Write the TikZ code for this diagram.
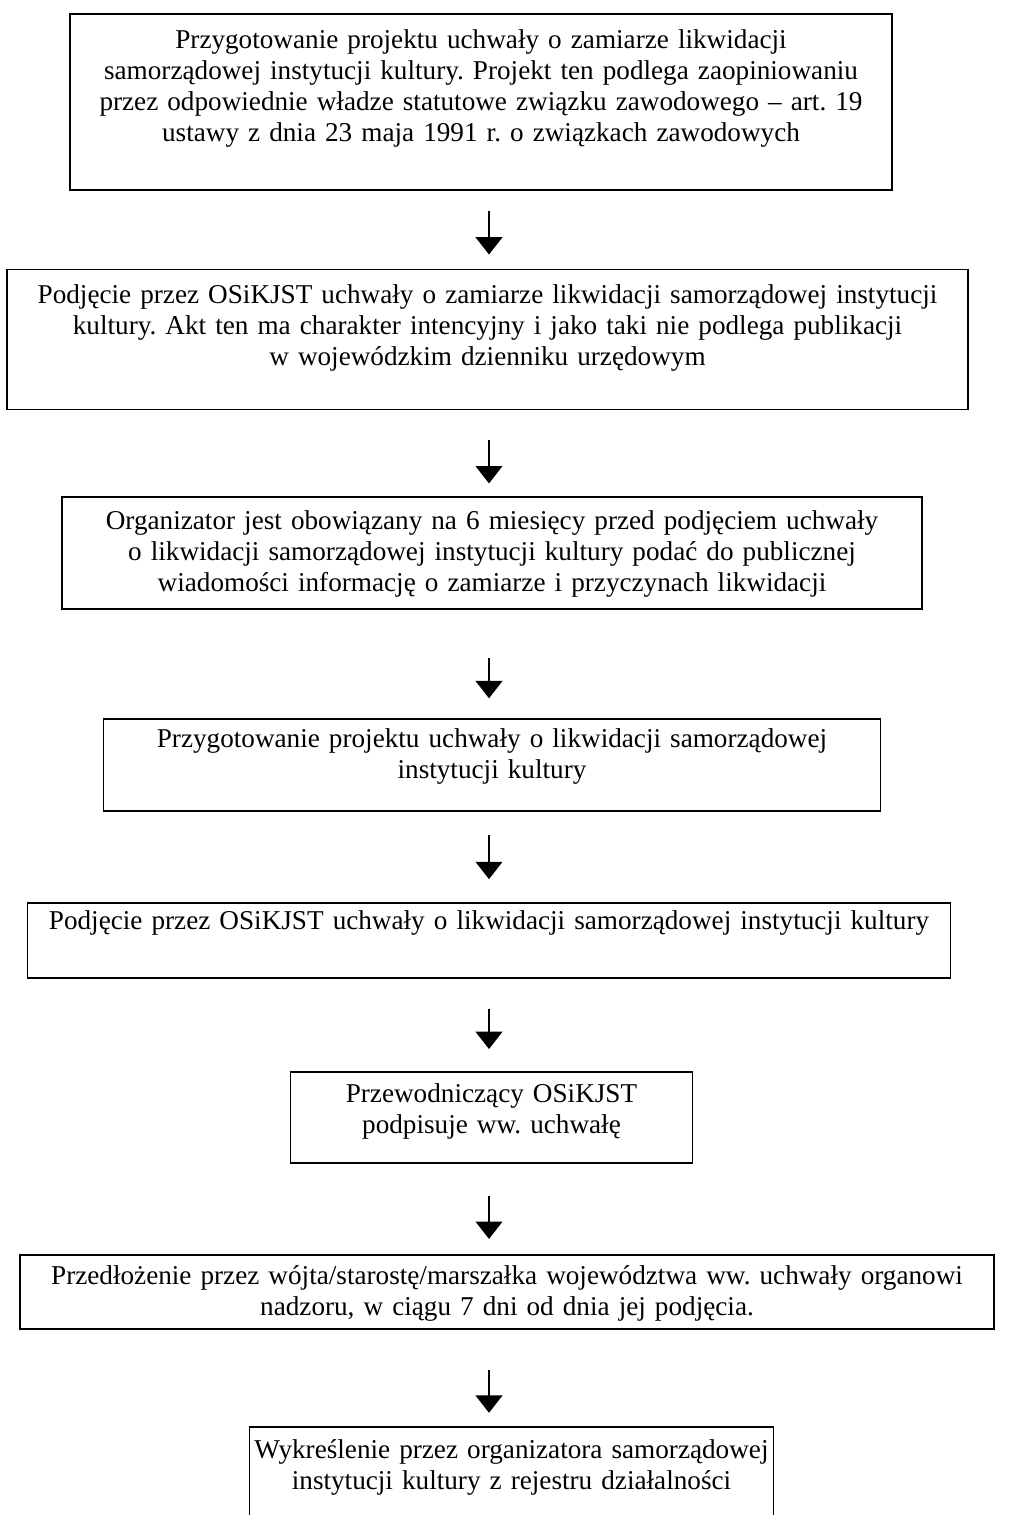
\documentclass[tikz,border=0pt]{standalone}
\usepackage{fontspec}
\setmainfont{Liberation Serif}
\usepackage{tikz}
\usetikzlibrary{arrows.meta, positioning}
\frenchspacing

\begin{document}
\begin{tikzpicture}[
    node distance=1.2cm,
    stage/.style={rectangle, draw=black, line width=0.8pt, inner sep=0pt, align=center, text height=0.47cm, font=\fontsize{11.6pt}{13.2pt}\selectfont},
    arrow/.style={-{Triangle[length=2.6mm, width=4mm]}, line width=0.8pt}
]
\useasboundingbox (0,0) rectangle (15.165,-22.725);
\coordinate (spine) at (7.335,0);

\node[stage, text width=12.33cm, text height=0.525cm, text depth=2.115cm, anchor=north] (draft) at (7.215,-0.19) {Przygotowanie projektu uchwały o zamiarze likwidacji\\ samorządowej instytucji kultury. Projekt ten podlega zaopiniowaniu\\ przez odpowiednie władze statutowe związku zawodowego – art. 19\\ ustawy z dnia 23 maja 1991 r. o związkach zawodowych};
\node[stage, text width=14.415cm, text height=0.51cm, text depth=1.59cm, below=1.17cm of draft, xshift=0.0975cm] (intent) {Podjęcie przez OSiKJST uchwały o zamiarze likwidacji samorządowej instytucji\\ kultury. Akt ten ma charakter intencyjny i jako taki nie podlega publikacji\\ w wojewódzkim dzienniku urzędowym};
\node[stage, text width=12.9cm, text height=0.48cm, text depth=1.2cm, below=1.29cm of intent, xshift=0.0675cm] (notice) {Organizator jest obowiązany na 6 miesięcy przed podjęciem uchwały\\ o likwidacji samorządowej instytucji kultury podać do publicznej\\ wiadomości informację o zamiarze i przyczynach likwidacji};
\node[stage, text width=11.655cm, text height=0.42cm, text depth=0.96cm, below=1.62cm of notice] (project) {Przygotowanie projektu uchwały o likwidacji samorządowej\\ instytucji kultury};
\node[stage, text width=13.845cm, text height=0.39cm, text depth=0.735cm, below=1.35cm of project, xshift=-0.045cm] (resolve) {Podjęcie przez OSiKJST uchwały o likwidacji samorządowej instytucji kultury};
\node[stage, text width=6.03cm, text height=0.465cm, text depth=0.9cm, below=1.38cm of resolve, xshift=0.0375cm] (sign) {Przewodniczący OSiKJST\\ podpisuje ww. uchwałę};
\node[stage, text width=14.6cm, text height=0.45cm, text depth=0.66cm, below=1.35cm of sign, xshift=0.2325cm] (submit) {Przedłożenie przez wójta/starostę/marszałka województwa ww. uchwały organowi\\ nadzoru, w ciągu 7 dni od dnia jej podjęcia.};
\node[stage, text width=7.86cm, text height=0.48cm, text depth=3cm, below=1.44cm of submit, xshift=0.0675cm] (strike) {Wykreślenie przez organizatora samorządowej\\ instytucji kultury z rejestru działalności};

\draw[arrow, shorten <=0.3cm, shorten >=0.21cm] (draft.south -| spine) -- (intent.north -| spine);
\draw[arrow, shorten <=0.45cm, shorten >=0.195cm] (intent.south -| spine) -- (notice.north -| spine);
\draw[arrow, shorten <=0.72cm, shorten >=0.3cm] (notice.south -| spine) -- (project.north -| spine);
\draw[arrow, shorten <=0.345cm, shorten >=0.345cm] (project.south -| spine) -- (resolve.north -| spine);
\draw[arrow, shorten <=0.45cm, shorten >=0.33cm] (resolve.south -| spine) -- (sign.north -| spine);
\draw[arrow, shorten <=0.48cm, shorten >=0.225cm] (sign.south -| spine) -- (submit.north -| spine);
\draw[arrow, shorten <=0.6cm, shorten >=0.195cm] (submit.south -| spine) -- (strike.north -| spine);

\end{tikzpicture}
\end{document}
